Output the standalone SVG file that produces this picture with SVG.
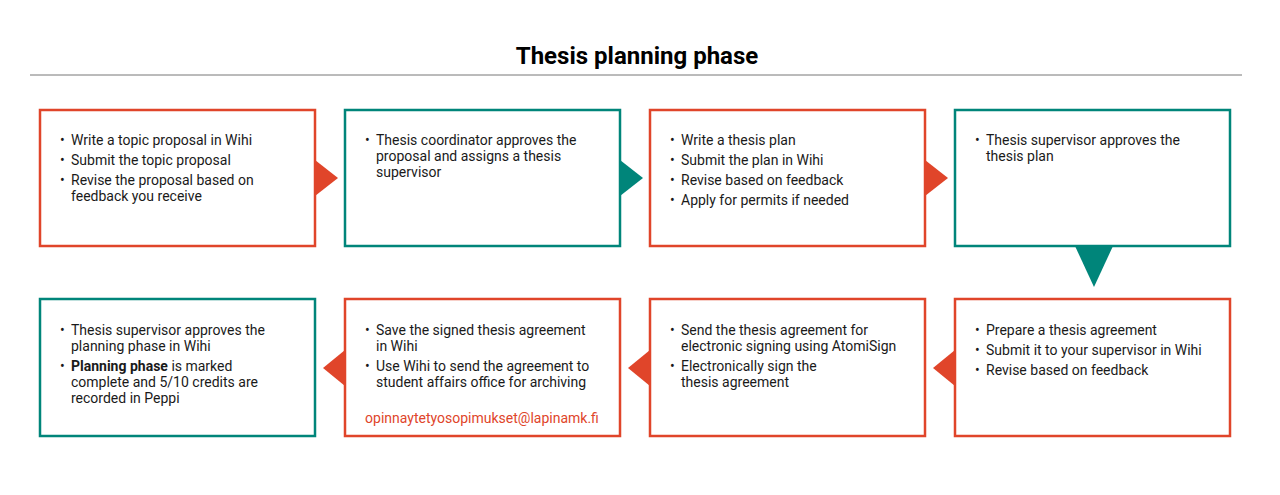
<svg xmlns="http://www.w3.org/2000/svg" width="1280" height="495" viewBox="0 0 1280 495">
<style>
text{font-family:Roboto,"Liberation Sans",sans-serif;font-size:14px;fill:#1a1a1a}
.o{fill:#fff;stroke:#e0452a;stroke-width:2.5}
.t{fill:#fff;stroke:#00857a;stroke-width:2.5}
.ao{fill:#e0452a}.at{fill:#00857a}
.title{font-size:24px;font-weight:bold;fill:#000}
.b{font-weight:bold}
</style>
<rect width="1280" height="495" fill="#fff"/>
<text class="title" x="637" y="64" text-anchor="middle">Thesis planning phase</text>
<line x1="30" y1="75" x2="1242" y2="75" stroke="#777" stroke-width="1"/>
<g id="n1"><rect class="o" x="40" y="110" width="275" height="136"/>
<text x="60" y="145">•</text><text x="71" y="145">Write a topic proposal in Wihi</text>
<text x="60" y="165">•</text><text x="71" y="165">Submit the topic proposal</text>
<text x="60" y="185">•</text><text x="71" y="185">Revise the proposal based on</text><text x="71" y="201">feedback you receive</text></g>
<g id="n2"><rect class="t" x="345" y="110" width="275" height="136"/>
<text x="365" y="145">•</text><text x="376" y="145">Thesis coordinator approves the</text><text x="376" y="161">proposal and assigns a thesis</text><text x="376" y="177">supervisor</text></g>
<g id="n3"><rect class="o" x="650" y="110" width="275" height="136"/>
<text x="670" y="145">•</text><text x="681" y="145">Write a thesis plan</text>
<text x="670" y="165">•</text><text x="681" y="165">Submit the plan in Wihi</text>
<text x="670" y="185">•</text><text x="681" y="185">Revise based on feedback</text>
<text x="670" y="205">•</text><text x="681" y="205">Apply for permits if needed</text></g>
<g id="n4"><rect class="t" x="955" y="110" width="275" height="136"/>
<text x="975" y="145">•</text><text x="986" y="145">Thesis supervisor approves the</text><text x="986" y="161">thesis plan</text></g>
<g id="n5"><rect class="o" x="955" y="299" width="275" height="137"/>
<text x="975" y="335">•</text><text x="986" y="335">Prepare a thesis agreement</text>
<text x="975" y="355">•</text><text x="986" y="355">Submit it to your supervisor in Wihi</text>
<text x="975" y="375">•</text><text x="986" y="375">Revise based on feedback</text></g>
<g id="n6"><rect class="o" x="650" y="299" width="275" height="137"/>
<text x="670" y="335">•</text><text x="681" y="335">Send the thesis agreement for</text><text x="681" y="351">electronic signing using AtomiSign</text>
<text x="670" y="371">•</text><text x="681" y="371">Electronically sign the</text><text x="681" y="387">thesis agreement</text></g>
<g id="n7"><rect class="o" x="345" y="299" width="275" height="137"/>
<text x="365" y="335">•</text><text x="376" y="335">Save the signed thesis agreement</text><text x="376" y="351">in Wihi</text>
<text x="365" y="371">•</text><text x="376" y="371">Use Wihi to send the agreement to</text><text x="376" y="387">student affairs office for archiving</text>
<text x="482" y="423" text-anchor="middle" style="fill:#e0452a">opinnaytetyosopimukset@lapinamk.fi</text></g>
<g id="n8"><rect class="t" x="40" y="299" width="275" height="137"/>
<text x="60" y="335">•</text><text x="71" y="335">Thesis supervisor approves the</text><text x="71" y="351">planning phase in Wihi</text>
<text x="60" y="371">•</text><text x="71" y="371"><tspan class="b">Planning phase</tspan> is marked</text><text x="71" y="387">complete and 5/10 credits are</text><text x="71" y="403">recorded in Peppi</text></g>
<g id="connectors">
<polygon class="ao" points="315,160 338,178 315,196"/>
<polygon class="at" points="620,160 643,178 620,196"/>
<polygon class="ao" points="925,160 948,178 925,196"/>
<polygon class="at" points="1075,246 1113,246 1094,287"/>
<polygon class="ao" points="955,350 933,368 955,386"/>
<polygon class="ao" points="650,350 628,368 650,386"/>
<polygon class="ao" points="345,350 323,368 345,386"/>
</g>
</svg>
